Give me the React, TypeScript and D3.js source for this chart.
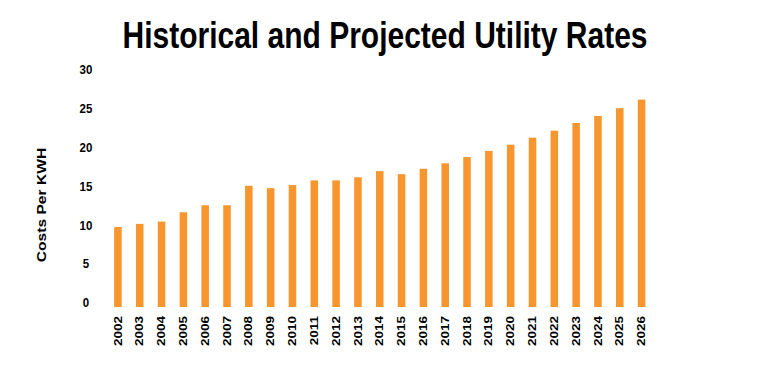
import React from "react";
import * as d3 from "d3";

const years = [
  "2002", "2003", "2004", "2005", "2006", "2007", "2008", "2009", "2010",
  "2011", "2012", "2013", "2014", "2015", "2016", "2017", "2018", "2019",
  "2020", "2021", "2022", "2023", "2024", "2025", "2026",
];
const rates = [
  10.3, 10.7, 11.0, 12.2, 13.1, 13.1, 15.6, 15.3, 15.7, 16.3, 16.3, 16.7,
  17.5, 17.1, 17.8, 18.5, 19.3, 20.1, 20.9, 21.8, 22.7, 23.7, 24.6, 25.6, 26.7,
];
const yTicks = [0, 5, 10, 15, 20, 25, 30];

const App = () => {
  const width = 768;
  const height = 389;
  const font = "'Liberation Sans', Arial, sans-serif";

  // x: bands, y: linear from 0 to 30
  const x = d3
    .scaleBand<string>()
    .domain(years)
    .range([107, 652.5])
    .paddingInner(0.655)
    .paddingOuter(0.3275);
  const y = d3.scaleLinear().domain([0, 30]).range([307, 74]);

  return (
    <svg
      width={width}
      height={height}
      style={{ position: "absolute", left: 0, top: 0, background: "#fff" }}
    >
      {/* title, stretched a bit vertically like the original */}
      <text
        transform="translate(385,48) scale(1,1.2)"
        textAnchor="middle"
        fontFamily={font}
        fontWeight="bold"
        fontSize={30}
        fill="#000"
      >
        Historical and Projected Utility Rates
      </text>

      {/* y axis title */}
      <text
        transform="translate(46,205) scale(1,1.2) rotate(-90)"
        textAnchor="middle"
        fontFamily={font}
        fontWeight="bold"
        fontSize={13}
        fill="#000"
      >
        Costs Per KWH
      </text>

      {/* y tick labels */}
      {yTicks.map((t) => (
        <text
          key={t}
          transform={`translate(86,${y(t) - 4}) scale(1,1.15)`}
          textAnchor="middle"
          dominantBaseline="central"
          fontFamily={font}
          fontWeight="bold"
          fontSize={11.5}
          fill="#000"
        >
          {t}
        </text>
      ))}

      {/* bars */}
      {years.map((yr, i) => (
        <rect
          key={yr}
          x={x(yr)}
          y={y(rates[i])}
          width={x.bandwidth()}
          height={y(0) - y(rates[i])}
          fill="#F7962E"
        />
      ))}

      {/* x tick labels (rotated) */}
      {years.map((yr) => (
        <text
          key={yr}
          transform={`translate(${(x(yr) ?? 0) + x.bandwidth() / 2 + 3.6},316) scale(1,1.28) rotate(-90)`}
          textAnchor="end"
          fontFamily={font}
          fontWeight="bold"
          fontSize={10.5}
          fill="#000"
        >
          {yr}
        </text>
      ))}
    </svg>
  );
};

export default App;
